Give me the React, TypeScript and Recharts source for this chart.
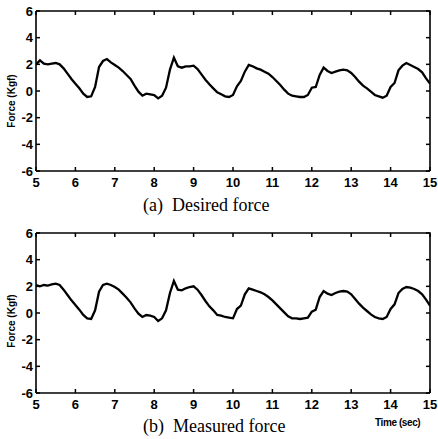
import React from 'react';
import { LineChart, Line, XAxis, YAxis } from 'recharts';

// time axis (sec), sampled every 0.1 s
const time = [
  5.0, 5.1, 5.2, 5.3, 5.4, 5.5, 5.6, 5.7, 5.8, 5.9,
  6.0, 6.1, 6.2, 6.3, 6.4, 6.5, 6.6, 6.7, 6.8, 6.9,
  7.0, 7.1, 7.2, 7.3, 7.4, 7.5, 7.6, 7.7, 7.8, 7.9,
  8.0, 8.1, 8.2, 8.3, 8.4, 8.5, 8.6, 8.7, 8.8, 8.9,
  9.0, 9.1, 9.2, 9.3, 9.4, 9.5, 9.6, 9.7, 9.8, 9.9,
  10.0, 10.1, 10.2, 10.3, 10.4, 10.5, 10.6, 10.7, 10.8, 10.9,
  11.0, 11.1, 11.2, 11.3, 11.4, 11.5, 11.6, 11.7, 11.8, 11.9,
  12.0, 12.1, 12.2, 12.3, 12.4, 12.5, 12.6, 12.7, 12.8, 12.9,
  13.0, 13.1, 13.2, 13.3, 13.4, 13.5, 13.6, 13.7, 13.8, 13.9,
  14.0, 14.1, 14.2, 14.3, 14.4, 14.5, 14.6, 14.7, 14.8, 14.9,
  15.0,
];

const desiredForce = [
  2.0, 2.3, 2.05, 2.0, 2.05, 2.1, 2.0, 1.7, 1.3, 0.9,
  0.55, 0.2, -0.2, -0.45, -0.4, 0.3, 1.8, 2.25, 2.4, 2.15,
  1.95, 1.75, 1.5, 1.2, 0.9, 0.4, -0.05, -0.35, -0.2, -0.25,
  -0.3, -0.55, -0.35, 0.25, 1.6, 2.5, 1.85, 1.75, 1.85, 1.85,
  1.9, 1.65, 1.25, 0.85, 0.5, 0.2, -0.1, -0.25, -0.4, -0.45,
  -0.3, 0.35, 0.75, 1.45, 1.95, 1.85, 1.7, 1.6, 1.45, 1.3,
  1.05, 0.75, 0.45, 0.1, -0.2, -0.35, -0.4, -0.45, -0.45, -0.3,
  0.25, 0.3, 1.2, 1.75, 1.5, 1.35, 1.45, 1.55, 1.6, 1.55,
  1.35, 1.05, 0.7, 0.4, 0.2, -0.05, -0.3, -0.4, -0.5, -0.35,
  0.3, 0.6, 1.55, 1.9, 2.1, 1.95, 1.8, 1.65, 1.4, 0.95,
  0.55,
];

const measuredForce = [
  2.1, 2.0, 2.1, 2.05, 2.15, 2.2, 2.1, 1.75, 1.35, 0.95,
  0.6, 0.25, -0.15, -0.4, -0.45, 0.2, 1.6, 2.1, 2.2, 2.1,
  1.95, 1.75, 1.45, 1.15, 0.8, 0.35, -0.05, -0.3, -0.15, -0.2,
  -0.3, -0.6, -0.4, 0.2, 1.5, 2.4, 1.75, 1.7, 1.85, 1.95,
  2.0, 1.75, 1.35, 0.9, 0.5, 0.2, -0.15, -0.2, -0.3, -0.35,
  -0.4, 0.3, 0.55, 1.4, 1.85, 1.75, 1.65, 1.55, 1.4, 1.2,
  0.95, 0.65, 0.35, 0.05, -0.25, -0.4, -0.4, -0.45, -0.4, -0.35,
  0.1, 0.25, 1.2, 1.65, 1.45, 1.35, 1.5, 1.6, 1.65, 1.6,
  1.4, 1.05, 0.7, 0.4, 0.15, -0.1, -0.3, -0.4, -0.45, -0.3,
  0.3, 0.65, 1.5, 1.8, 1.95, 1.9, 1.8, 1.65, 1.4, 1.0,
  0.55,
];

const xTicks = [5, 6, 7, 8, 9, 10, 11, 12, 13, 14, 15];
const yTicks = [-6, -4, -2, 0, 2, 4, 6];

// plot box geometry (layout only)
const PLOT_W = 394;
const PLOT_H = 160;
const TICK_LEN = 4;
const X_MARGIN = 7;
const Y_MARGIN = 3;

const tickFont = { fontFamily: 'Liberation Sans, Arial, sans-serif', fontWeight: 700, fontSize: 13 };

// tick marks point inwards, mirrored on the opposite edge, like MATLAB
const BottomTick = (props: any) => {
  const { x, y, payload } = props;
  const axisY = y - X_MARGIN;
  const topY = axisY - PLOT_H;
  return (
    <g>
      <line x1={x} y1={axisY} x2={x} y2={axisY - TICK_LEN} stroke="#000" strokeWidth={1.5} />
      <line x1={x} y1={topY} x2={x} y2={topY + TICK_LEN} stroke="#000" strokeWidth={1.5} />
      <text x={x} y={y} dy="0.71em" textAnchor="middle" fill="#000" style={tickFont}>
        {payload.value}
      </text>
    </g>
  );
};

const LeftTick = (props: any) => {
  const { x, y, payload } = props;
  const axisX = x + Y_MARGIN;
  const rightX = axisX + PLOT_W;
  return (
    <g>
      <line x1={axisX} y1={y} x2={axisX + TICK_LEN} y2={y} stroke="#000" strokeWidth={1.5} />
      <line x1={rightX} y1={y} x2={rightX - TICK_LEN} y2={y} stroke="#000" strokeWidth={1.5} />
      <text x={x} y={y} dy="0.36em" textAnchor="end" fill="#000" style={tickFont}>
        {payload.value}
      </text>
    </g>
  );
};

const axisStroke = { stroke: '#000', strokeWidth: 1.6 };

const ForcePlot = ({ values, top }: { values: number[]; top: number }) => {
  const data = time.map((t, i) => ({ t, f: values[i] }));
  return (
    <div style={{ position: 'absolute', left: 0, top, width: 438, height: 200 }}>
      <LineChart width={438} height={200} data={data} margin={{ top: 11, right: 8, bottom: 9, left: 0 }}>
        <XAxis
          dataKey="t"
          type="number"
          domain={[5, 15]}
          ticks={xTicks}
          allowDataOverflow
          height={20}
          tickSize={0}
          tickMargin={X_MARGIN}
          tick={BottomTick}
          axisLine={axisStroke}
        />
        <YAxis
          type="number"
          domain={[-6, 6]}
          ticks={yTicks}
          allowDataOverflow
          width={36}
          tickSize={0}
          tickMargin={Y_MARGIN}
          tick={LeftTick}
          axisLine={axisStroke}
        />
        <Line
          dataKey="f"
          type="linear"
          stroke="#000"
          strokeWidth={2.3}
          dot={false}
          isAnimationActive={false}
        />
      </LineChart>
      {/* top and right edges of the box */}
      <svg
        width={438}
        height={200}
        style={{ position: 'absolute', left: 0, top: 0, pointerEvents: 'none' }}
      >
        <polyline
          points={`36,11 ${36 + PLOT_W},11 ${36 + PLOT_W},${11 + PLOT_H}`}
          fill="none"
          stroke="#000"
          strokeWidth={1.6}
        />
      </svg>
    </div>
  );
};

const yLabelStyle: React.CSSProperties = {
  position: 'absolute',
  left: 12,
  fontFamily: 'Liberation Sans, Arial, sans-serif',
  fontWeight: 700,
  fontSize: 10,
  lineHeight: '10px',
  whiteSpace: 'nowrap',
  transform: 'translate(-50%, -50%) rotate(-90deg)',
};

const captionStyle: React.CSSProperties = {
  position: 'absolute',
  left: 143,
  fontFamily: 'Liberation Serif, Times New Roman, serif',
  fontSize: 18,
  lineHeight: '18px',
  whiteSpace: 'pre',
};

export default function App() {
  return (
    <div style={{ position: 'absolute', left: 0, top: 0, width: 438, height: 439, background: '#fff', overflow: 'hidden' }}>
      <ForcePlot values={desiredForce} top={0} />
      <ForcePlot values={measuredForce} top={222} />
      <div style={{ ...yLabelStyle, top: 101 }}>Force (Kgf)</div>
      <div style={{ ...yLabelStyle, top: 321 }}>Force (Kgf)</div>
      <div style={{ ...captionStyle, top: 196 }}>(a)  Desired force</div>
      <div style={{ ...captionStyle, top: 417 }}>(b)  Measured force</div>
      <div
        style={{
          position: 'absolute',
          left: 375,
          top: 418,
          fontFamily: 'Liberation Sans, Arial, sans-serif',
          fontWeight: 700,
          fontSize: 10,
          lineHeight: '10px',
          letterSpacing: -0.4,
          whiteSpace: 'nowrap',
        }}
      >
        Time (sec)
      </div>
    </div>
  );
}
